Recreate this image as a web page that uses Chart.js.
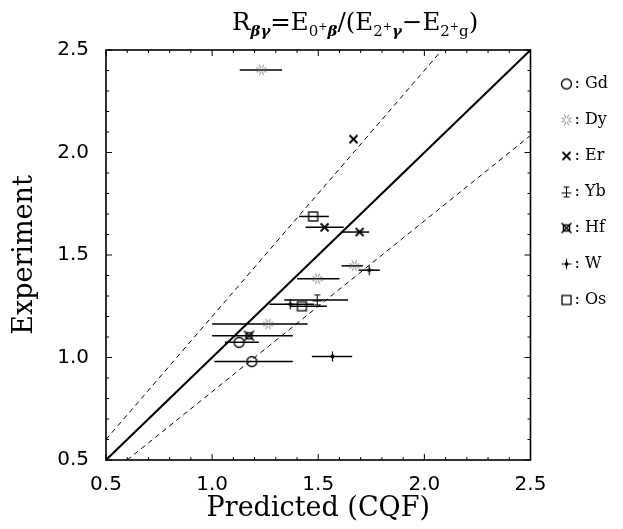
<!DOCTYPE html>
<html>
<head>
<meta charset="utf-8">
<script src="https://cdn.jsdelivr.net/npm/chart.js@4.4.1/dist/chart.umd.min.js"></script>
<style>
  body { margin: 0; background: #fff; }
  #wrap { position: relative; width: 623px; height: 529px; }
  #title {
    position: absolute; left: 232px; top: 7px;
    font-family: "DejaVu Serif", serif; font-size: 24.5px; color: #000; white-space: nowrap;
  }
  #title sub { font-size: 15px; vertical-align: -6px; }
  #title sup { font-size: 11px; vertical-align: 6px; }
  #title i { font-weight: bold; }
</style>
</head>
<body>
<div id="wrap">
  <canvas id="chart" width="623" height="529"></canvas>
  <div id="title">R<sub><i>βγ</i></sub>=E<sub>0<sup>+</sup><i>β</i></sub>/(E<sub>2<sup>+</sup><i>γ</i></sub>−E<sub>2<sup>+</sup>g</sub>)</div>
</div>
<script>
// nuclei and their points (x = predicted CQF, y = experiment), horizontal error bars
const nuclei = ['Gd', 'Dy', 'Er', 'Yb', 'Hf', 'W', 'Os'];

const gdX = [1.127, 1.187];
const gdY = [1.074, 0.980];
const gdLo = [1.06, 1.01];
const gdHi = [1.22, 1.38];

const dyX = [1.232, 1.670, 1.497, 1.264];
const dyY = [2.403, 1.447, 1.384, 1.163];
const dyLo = [1.13, 1.61, 1.40, 1.00];
const dyHi = [1.33, 1.71, 1.60, 1.45];

const erX = [1.666, 1.530, 1.695];
const erY = [2.065, 1.635, 1.612];
const erLo = [null, 1.44, 1.61];
const erHi = [null, 1.62, 1.74];

const ybX = [1.495];
const ybY = [1.281];
const ybLo = [1.34];
const ybHi = [1.64];

const hfX = [1.174];
const hfY = [1.106];
const hfLo = [1.00];
const hfHi = [1.38];

const wX = [1.740, 1.368, 1.567];
const wY = [1.426, 1.260, 1.005];
const wLo = [1.69, 1.27, 1.47];
const wHi = [1.79, 1.48, 1.66];

const osX = [1.476, 1.423];
const osY = [1.688, 1.250];
const osLo = [1.41, 1.37];
const osHi = [1.55, 1.54];

// reference lines: y = x and the 20% band
const diagX = [0.5, 2.5];
const diagY = [0.5, 2.5];
const upperX = [0.5, 2.083];
const upperY = [0.6, 2.5];
const lowerX = [0.6, 2.5];
const lowerY = [0.5, 2.083];

const axisTicks = [0.5, 1.0, 1.5, 2.0, 2.5];

const painters = {
  Gd: g => { g.beginPath(); g.arc(0, 0, 5, 0, Math.PI * 2); g.stroke(); },
  Dy: g => {
    g.strokeStyle = '#777'; g.lineWidth = 1;
    for (let k = 0; k < 4; k++) {
      const a = k * Math.PI / 4 + Math.PI / 8;
      for (const s of [1, -1]) {
        g.beginPath();
        g.moveTo(s * 2 * Math.cos(a), s * 2 * Math.sin(a));
        g.lineTo(s * 5.5 * Math.cos(a), s * 5.5 * Math.sin(a));
        g.stroke();
      }
    }
  },
  Er: g => {
    g.lineWidth = 1.8;
    g.beginPath(); g.moveTo(-4, -4); g.lineTo(4, 4); g.moveTo(4, -4); g.lineTo(-4, 4); g.stroke();
  },
  Yb: g => {
    g.lineWidth = 1.1;
    g.beginPath();
    g.moveTo(0, -5); g.lineTo(0, 5);
    g.moveTo(-5, 1); g.lineTo(5, 1);
    g.moveTo(-3, -5); g.lineTo(3, -5);
    g.moveTo(-3, 5); g.lineTo(3, 5);
    g.stroke();
  },
  Hf: g => {
    g.lineWidth = 1.4;
    g.strokeRect(-3, -3, 6, 6);
    g.beginPath(); g.moveTo(-5, -5); g.lineTo(5, 5); g.moveTo(5, -5); g.lineTo(-5, 5); g.stroke();
  },
  W: g => {
    g.lineWidth = 1.2;
    g.beginPath(); g.moveTo(-5, 0); g.lineTo(5, 0); g.moveTo(0, -5); g.lineTo(0, 5); g.stroke();
    g.beginPath(); g.moveTo(0, -2.5); g.lineTo(2.5, 0); g.lineTo(0, 2.5); g.lineTo(-2.5, 0); g.closePath(); g.fill();
  },
  Os: g => { g.strokeRect(-4.5, -4.5, 9, 9); }
};

// width/offset let the legend copy sit a little right of its slot
function symbol(name, width, offset) {
  const c = document.createElement('canvas');
  c.width = width; c.height = 15;
  const g = c.getContext('2d');
  g.translate(width / 2 + offset, 7.5);
  g.strokeStyle = '#000';
  g.fillStyle = '#000';
  g.lineWidth = 1.3;
  painters[name](g);
  return c;
}

function pts(xs, ys) { return xs.map((x, i) => ({ x: x, y: ys[i] })); }

function pointSet(name, xs, ys, lo, hi) {
  return {
    label: name,
    data: pts(xs, ys),
    errLo: lo,
    errHi: hi,
    pointStyle: symbol(name, 15, 0),
    legendStyle: symbol(name, 31, 8),
    pointRadius: 5,
    showLine: false
  };
}

function lineSet(xs, ys, width, dash) {
  return {
    label: '',
    isRef: true,
    data: pts(xs, ys),
    showLine: true,
    borderColor: '#000',
    borderWidth: width,
    borderDash: dash,
    pointRadius: 0,
    pointHoverRadius: 0
  };
}

const errorBars = {
  id: 'errorBars',
  beforeDatasetsDraw(chart) {
    const ctx = chart.ctx;
    const xs = chart.scales.x, ys = chart.scales.y;
    ctx.save();
    ctx.strokeStyle = '#000';
    ctx.lineWidth = 1.5;
    chart.data.datasets.forEach(ds => {
      if (!ds.errLo) return;
      ds.data.forEach((p, i) => {
        if (ds.errLo[i] == null) return;
        const y = ys.getPixelForValue(p.y);
        ctx.beginPath();
        ctx.moveTo(xs.getPixelForValue(ds.errLo[i]), y);
        ctx.lineTo(xs.getPixelForValue(ds.errHi[i]), y);
        ctx.stroke();
      });
    });
    ctx.restore();
  }
};

const frame = {
  id: 'frame',
  afterDatasetsDraw(chart) {
    const ctx = chart.ctx;
    const a = chart.chartArea;
    const xs = chart.scales.x, ys = chart.scales.y;
    ctx.save();
    ctx.strokeStyle = '#000';
    ctx.lineWidth = 1.6;
    ctx.strokeRect(a.left, a.top, a.right - a.left, a.bottom - a.top);
    ctx.lineWidth = 1;
    for (let k = 0; k <= 20; k++) {
      const v = 0.5 + k * 0.1;
      const len = k % 5 === 0 ? 6 : 3;
      const px = xs.getPixelForValue(v), py = ys.getPixelForValue(v);
      ctx.beginPath();
      ctx.moveTo(px, a.bottom); ctx.lineTo(px, a.bottom - len);
      ctx.moveTo(px, a.top); ctx.lineTo(px, a.top + len);
      ctx.moveTo(a.left, py); ctx.lineTo(a.left + len, py);
      ctx.moveTo(a.right, py); ctx.lineTo(a.right - len, py);
      ctx.stroke();
    }
    ctx.restore();
  }
};

const tickFont = { family: '"DejaVu Sans", sans-serif', size: 20 };
const titleFont = { family: '"DejaVu Serif", serif', size: 27 };

new Chart(document.getElementById('chart').getContext('2d'), {
  type: 'scatter',
  data: {
    datasets: [
      lineSet(diagX, diagY, 2, []),
      lineSet(upperX, upperY, 1, [5, 4]),
      lineSet(lowerX, lowerY, 1, [5, 4]),
      pointSet('Gd', gdX, gdY, gdLo, gdHi),
      pointSet('Dy', dyX, dyY, dyLo, dyHi),
      pointSet('Er', erX, erY, erLo, erHi),
      pointSet('Yb', ybX, ybY, ybLo, ybHi),
      pointSet('Hf', hfX, hfY, hfLo, hfHi),
      pointSet('W', wX, wY, wLo, wHi),
      pointSet('Os', osX, osY, osLo, osHi)
    ]
  },
  options: {
    responsive: false,
    animation: false,
    layout: { padding: { top: 50, left: 0, right: 5, bottom: 0 } },
    plugins: {
      tooltip: { enabled: false },
      legend: {
        position: 'right',
        align: 'start',
        title: { display: true, text: '', font: { size: 1, lineHeight: 1 }, padding: { top: 5, bottom: 0 } },
        labels: {
          usePointStyle: true,
          pointStyleWidth: 16,
          padding: 20,
          color: '#000',
          font: { family: '"DejaVu Serif", serif', size: 16 },
          generateLabels: chart => chart.data.datasets
            .filter(ds => !ds.isRef)
            .map(ds => ({
              text: ': ' + ds.label,
              pointStyle: ds.legendStyle,
              fillStyle: '#000',
              strokeStyle: '#000',
              lineWidth: 0,
              fontColor: '#000',
              datasetIndex: chart.data.datasets.indexOf(ds)
            }))
        }
      }
    },
    scales: {
      x: {
        type: 'linear',
        min: 0.5, max: 2.5,
        afterBuildTicks: s => { s.ticks = axisTicks.map(v => ({ value: v })); },
        afterFit: s => { s.height = 69; },
        grid: { display: false },
        border: { display: false },
        ticks: { color: '#000', font: tickFont, padding: 5, maxRotation: 0, callback: v => v.toFixed(1) },
        title: { display: true, text: 'Predicted (CQF)', color: '#000', font: titleFont, padding: { top: 0, bottom: 4 } }
      },
      y: {
        type: 'linear',
        min: 0.5, max: 2.5,
        afterBuildTicks: s => { s.ticks = axisTicks.map(v => ({ value: v })); },
        afterFit: s => { s.width = 106; },
        grid: { display: false },
        border: { display: false },
        ticks: { color: '#000', font: tickFont, padding: 9, callback: v => v.toFixed(1) },
        title: { display: true, text: 'Experiment', color: '#000', font: titleFont, padding: { top: 9, bottom: 4 } }
      }
    }
  },
  plugins: [errorBars, frame]
});
</script>
</body>
</html>
